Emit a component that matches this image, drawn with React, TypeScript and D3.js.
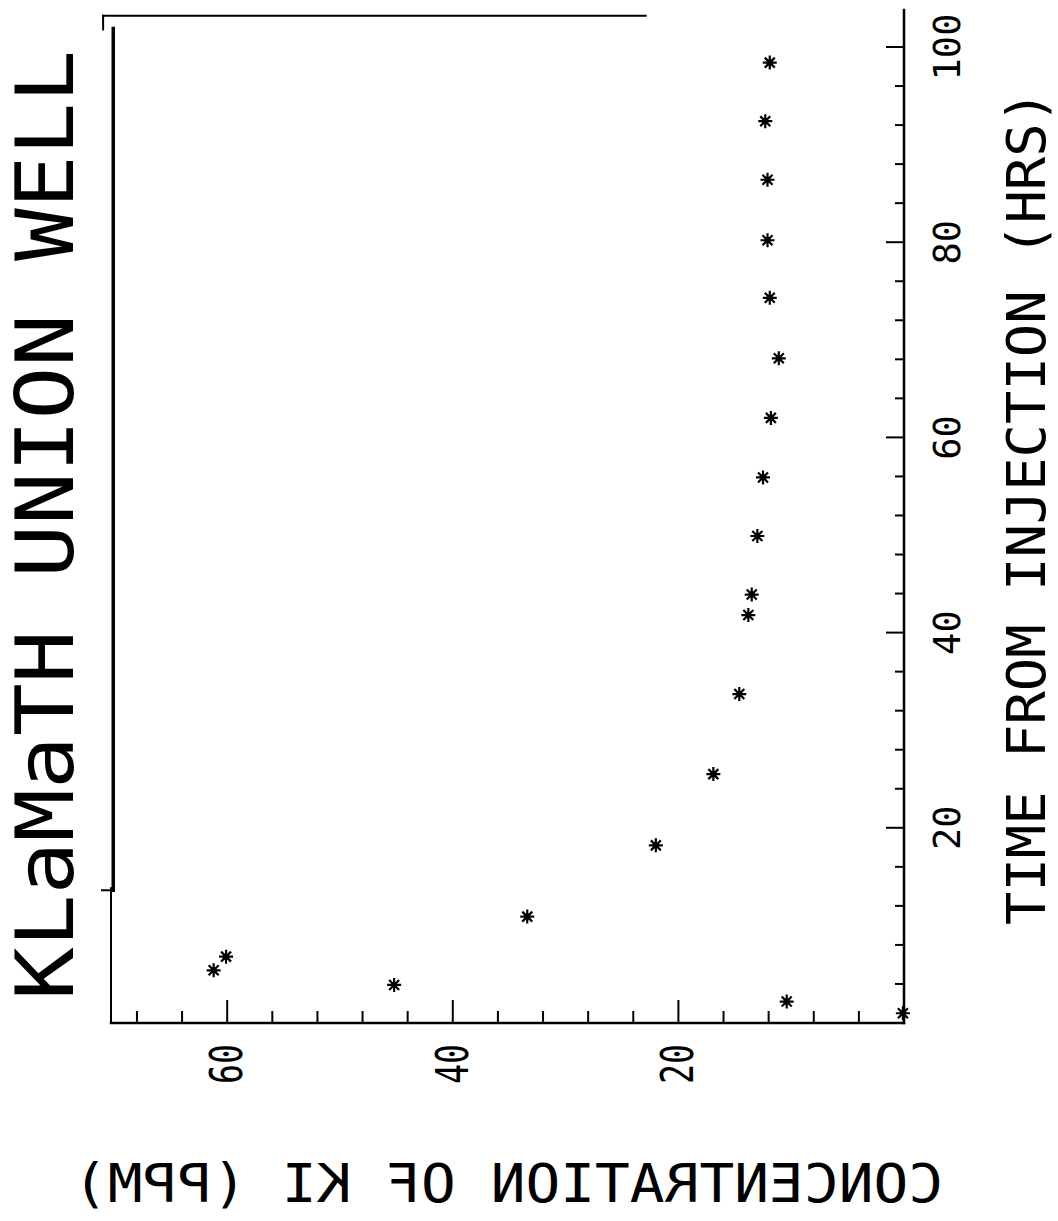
import * as d3 from "d3";
import { useEffect } from "react";

// time since injection (hrs) and KI concentration (ppm)
const TIME_HRS = [1.0, 2.2, 3.9, 5.4, 6.8, 10.9, 18.2, 25.5, 33.7, 41.8, 43.9, 49.9, 55.9, 62.0, 68.1, 74.3, 80.2, 86.4, 92.4, 98.4];
const KI_PPM = [0.1, 10.4, 45.2, 61.2, 60.1, 33.4, 22.0, 16.9, 14.6, 13.8, 13.5, 13.0, 12.5, 11.8, 11.1, 11.9, 12.1, 12.1, 12.3, 11.9];

const CONC_TICKS = [0, 4, 8, 12, 16, 20, 24, 28, 32, 36, 40, 44, 48, 52, 56, 60, 64, 68];
const CONC_LABELS = [20, 40, 60];
const TIME_TICKS = [4, 8, 12, 16, 20, 24, 28, 32, 36, 40, 44, 48, 52, 56, 60, 64, 68, 72, 76, 80, 84, 88, 92, 96, 100];
const TIME_LABELS = [20, 40, 60, 80, 100];

const TITLE = "KLaMaTH UNION WELL";
const TIME_TITLE = "TIME FROM INJECTION (HRS)";
const CONC_TITLE = "CONCENTRATION OF KI (PPM)";

const W = 1058, H = 1221;
const mono = "'DejaVu Sans Mono', 'Liberation Mono', monospace";

export default function App() {
    useEffect(() => {
        document.body.style.margin = "0";
        draw();
    }, []);

    function draw() {
        const svg = d3.select("#kiplot");
        svg.selectAll("*").remove();

        // concentration runs right to left, time runs bottom to top
        var x = d3.scaleLinear().domain([0, 70.3]).range([904, 111]);
        var y = d3.scaleLinear().domain([0, 100]).range([1023, 47]);

        const g = svg.append("g").attr("stroke", "#000").attr("fill", "none").attr("stroke-linecap", "square");

        // frame
        g.append("line").attr("x1", x(71)).attr("x2", x(22.9)).attr("y1", y(103.2)).attr("y2", y(103.2)).attr("stroke-width", 2);
        g.append("line").attr("x1", x(71)).attr("x2", x(71)).attr("y1", y(103.2)).attr("y2", y(101.8)).attr("stroke-width", 2);
        g.append("line").attr("x1", x(70.1)).attr("x2", x(70.1)).attr("y1", y(101.9)).attr("y2", y(13.6)).attr("stroke-width", 3.5);
        g.append("line").attr("x1", x(70.1)).attr("x2", x(71.1)).attr("y1", y(13.6)).attr("y2", y(13.6)).attr("stroke-width", 2);
        g.append("line").attr("x1", x(70.3)).attr("x2", x(70.3)).attr("y1", y(13.8)).attr("y2", y(0)).attr("stroke-width", 2);

        // concentration axis (bottom)
        g.append("line").attr("x1", x(70.3)).attr("x2", x(0)).attr("y1", y(0)).attr("y2", y(0)).attr("stroke-width", 2.5);
        g.selectAll(".ctick").data(CONC_TICKS).enter().append("line")
            .attr("class", "ctick")
            .attr("x1", d => x(d)).attr("x2", d => x(d))
            .attr("y1", y(0))
            .attr("y2", d => y(0) - (CONC_LABELS.includes(d) ? 22 : 11))
            .attr("stroke-width", 2);

        // time axis (right)
        g.append("line").attr("x1", x(0)).attr("x2", x(0)).attr("y1", y(0)).attr("y2", y(103.8)).attr("stroke-width", 2.5);
        g.selectAll(".ttick").data(TIME_TICKS).enter().append("line")
            .attr("class", "ttick")
            .attr("x1", x(0))
            .attr("x2", d => x(0) - (TIME_LABELS.includes(d) ? 17 : 8))
            .attr("y1", d => y(d)).attr("y2", d => y(d))
            .attr("stroke-width", 2);

        // tick labels
        svg.selectAll(".clab").data(CONC_LABELS).enter().append("text")
            .attr("class", "clab")
            .attr("transform", d => "translate(" + (x(d) + 15) + "," + 1064 + ") rotate(-90)")
            .attr("text-anchor", "middle")
            .attr("textLength", 40).attr("lengthAdjust", "spacingAndGlyphs")
            .style("font-family", mono).style("font-size", "44px")
            .text(d => d);

        svg.selectAll(".tlab").data(TIME_LABELS).enter().append("text")
            .attr("class", "tlab")
            .attr("transform", d => "translate(" + 960 + "," + y(d) + ") rotate(-90)")
            .attr("text-anchor", "middle")
            .style("font-family", mono).style("font-size", "37px").style("font-weight", "200")
            .text(d => d);

        // axis titles
        svg.append("text")
            .attr("transform", "translate(1045,925) rotate(-90)")
            .attr("textLength", 835).attr("lengthAdjust", "spacingAndGlyphs")
            .style("font-family", mono).style("font-size", "54px")
            .text(TIME_TITLE);

        svg.append("text")
            .attr("transform", "translate(508,1202) scale(-1,1)")
            .attr("text-anchor", "middle")
            .attr("textLength", 870).attr("lengthAdjust", "spacingAndGlyphs")
            .style("font-family", mono).style("font-size", "54px")
            .text(CONC_TITLE);

        svg.append("text")
            .attr("transform", "translate(73,1000) rotate(-90)")
            .attr("textLength", 950).attr("lengthAdjust", "spacingAndGlyphs")
            .style("font-family", mono).style("font-size", "80px")
            .text(TITLE);

        // asterisk markers
        const star = "M-7,0L7,0M0,-7L0,7M-5,-5L5,5M-5,5L5,-5";
        const pts = svg.selectAll(".pt").data(TIME_HRS.map((t, i) => ({ t: t, c: KI_PPM[i] }))).enter()
            .append("g").attr("class", "pt")
            .attr("transform", d => "translate(" + x(d.c) + "," + y(d.t) + ")");
        pts.append("path").attr("d", star).attr("stroke", "#000").attr("stroke-width", 2.2).attr("fill", "none");
        pts.append("circle").attr("r", 3).attr("fill", "#000");
    }

    return (
        <svg id="kiplot" width={W} height={H} style={{ display: "block", background: "#fff" }}></svg>
    );
}
